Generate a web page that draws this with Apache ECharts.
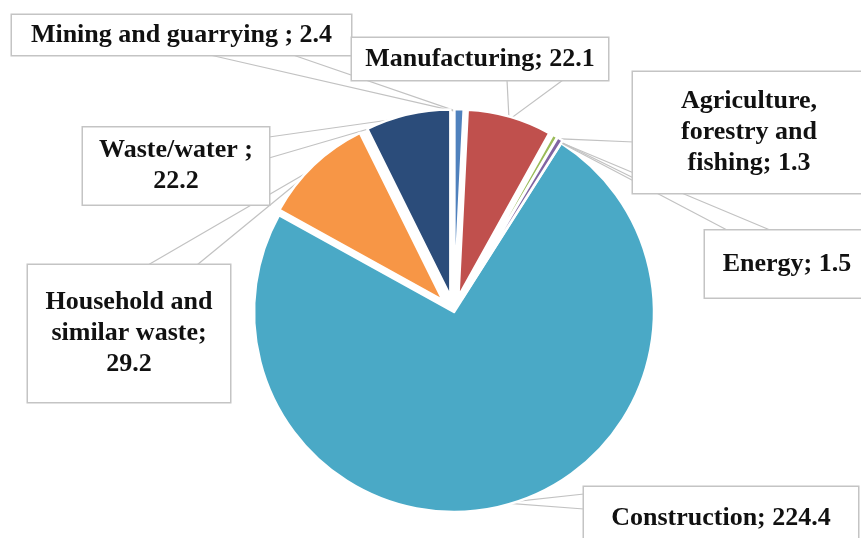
<!DOCTYPE html>
<html>
<head>
<meta charset="utf-8">
<script src="https://cdn.jsdelivr.net/npm/echarts@6/dist/echarts.min.js"></script>
<style>
  html, body { margin: 0; padding: 0; background: #ffffff; }
  #chart { width: 861px; height: 538px; }
</style>
</head>
<body>
<div id="chart"></div>
<script>
// Waste generation by sector
const categories = [
  'Mining and guarrying ',
  'Manufacturing',
  'Agriculture,\nforestry and\nfishing',
  'Energy',
  'Construction',
  'Household and\nsimilar waste',
  'Waste/water '
];
const values = [2.4, 22.1, 1.3, 1.5, 224.4, 29.2, 22.2];
const colors = ['#4f81bd', '#c0504d', '#9bbb59', '#8064a2', '#4aa9c6', '#f79646', '#2b4c7a'];

// label text: does the value go on its own line
const valueOnNewLine = [false, false, false, false, false, true, true];
const mainSlice = 4; // Construction, drawn in place on the larger radius

// callout boxes: centre x, centre y, width, height
const boxes = [
  [181.5, 35, 339, 40],
  [480, 59, 256, 42],
  [749, 132.5, 232, 121],
  [787, 264, 164, 67],
  [721, 518, 274, 62],
  [129, 333.5, 202, 137],
  [176, 166, 186, 77]
];
// the two points where each wedge-shaped leader leaves its callout box
const boxAnchors = [
  [[210, 55], [293, 55]],
  [[507, 80], [563, 80]],
  [[634, 142], [664, 193]],
  [[727, 230], [770, 230]],
  [[584, 494], [584, 509]],
  [[148, 265], [197, 265]],
  [[269, 137], [269, 158]]
];

const CENTER = [454, 312];
const R_MAIN = 200;
const R_SMALL = 187;
const EXPLODE = 16;
const LINE_H = 31;
const FONT = { fontFamily: "'Liberation Serif', 'Times New Roman', serif", fontWeight: 'bold', fontSize: 26, color: '#111111' };

function labelText(i) {
  return categories[i] + (valueOnNewLine[i] ? ';\n' : '; ') + values[i];
}

function labelFor(i) {
  const text = labelText(i);
  const lines = text.split('\n').length;
  const b = boxes[i];
  const padV = Math.max(0, (b[3] - lines * LINE_H) / 2);
  return Object.assign({
    show: true,
    formatter: text,
    width: b[2] - 8,
    lineHeight: LINE_H,
    padding: [padV, 4],
    align: 'center',
    backgroundColor: '#ffffff',
    borderColor: '#c4c4c4',
    borderWidth: 1.5
  }, FONT);
}

const hidden = {
  itemStyle: { color: 'rgba(0,0,0,0)', borderWidth: 0 },
  label: { show: false },
  labelLine: { show: false },
  tooltip: { show: false }
};

// every ring carries the full data so angles stay shared; only one slice is painted
function buildData(visible) {
  return values.map((v, i) => {
    const item = { name: categories[i], value: v };
    if (i !== visible) return Object.assign(item, hidden);
    item.itemStyle = { color: colors[i] };
    item.label = labelFor(i);
    return item;
  });
}

const total = values.reduce((a, b) => a + b, 0);
function midAngle(i) {
  let before = 0;
  for (let k = 0; k < i; k++) before += values[k];
  return (before + values[i] / 2) / total * 2 * Math.PI;
}
// centre of a slice, exploded slices pushed outward along their mid angle
function sliceCenter(i) {
  if (i === mainSlice) return CENTER;
  const a = midAngle(i);
  return [CENTER[0] + EXPLODE * Math.sin(a), CENTER[1] - EXPLODE * Math.cos(a)];
}
function sliceRadius(i) {
  return i === mainSlice ? R_MAIN : R_SMALL;
}
// point on the outer arc of a slice, at its mid angle
function sliceEdge(i) {
  const c = sliceCenter(i), a = midAngle(i), r = sliceRadius(i) - 3;
  return [c[0] + r * Math.sin(a), c[1] - r * Math.cos(a)];
}

function layout(params) {
  const i = params.dataIndex;
  const b = boxes[i];
  const tip = sliceEdge(i), ends = boxAnchors[i];
  return {
    x: b[0], y: b[1], align: 'center', verticalAlign: 'middle',
    labelLinePoints: [ends[0], tip, ends[1]]
  };
}

const common = {
  type: 'pie',
  startAngle: 90,
  clockwise: true,
  avoidLabelOverlap: false,
  animation: false,
  silent: true,
  itemStyle: { borderColor: '#ffffff', borderWidth: 2.5 },
  labelLine: { show: true, length: 10, length2: 10, smooth: false, lineStyle: { color: '#c2c2c2', width: 1.2 } },
  labelLayout: layout
};

const series = values.map((v, i) => Object.assign({}, common, {
  name: categories[i],
  center: sliceCenter(i),
  radius: sliceRadius(i),
  z: i === mainSlice ? 1 : 2,
  data: buildData(i)
}));

const chart = echarts.init(document.getElementById('chart'), null, { renderer: 'canvas' });
chart.setOption({
  backgroundColor: '#ffffff',
  series: series
});
</script>
</body>
</html>
